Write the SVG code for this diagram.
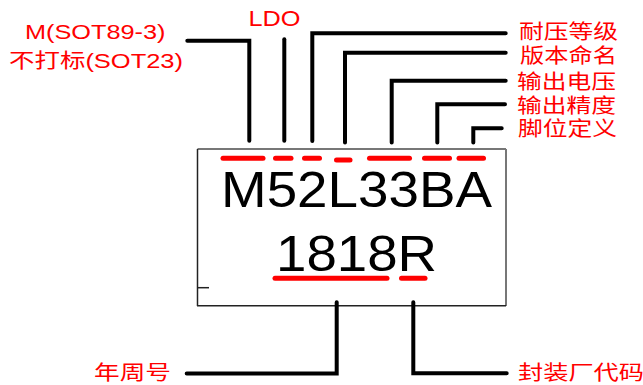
<svg xmlns="http://www.w3.org/2000/svg" width="643" height="385" viewBox="0 0 643 385">
<style>
.lbl{font-family:"Liberation Sans","Noto Sans CJK SC",sans-serif;fill:#ff0000;font-size:20px}
.lat{font-family:"Liberation Sans",Arial,sans-serif;fill:#ff0000}
.big{font-family:"Liberation Sans",Arial,sans-serif;fill:#000;font-size:50px}
.con{fill:none;stroke:#000;stroke-width:4;stroke-linecap:round;stroke-linejoin:miter}
.dash{stroke:#ff0000;stroke-width:5;stroke-linecap:round}
</style>
<rect width="643" height="385" fill="#fff"/>
<g id="chip">
<line x1="197.5" y1="149" x2="506" y2="149" stroke="#777" stroke-width="2"/>
<line x1="506" y1="149" x2="506" y2="306" stroke="#777" stroke-width="2"/>
<line x1="197.5" y1="149" x2="197.5" y2="306" stroke="#222" stroke-width="1.5"/>
<line x1="197" y1="305.7" x2="506" y2="305.7" stroke="#222" stroke-width="1.5"/>
<line x1="197" y1="287.7" x2="209" y2="287.7" stroke="#222" stroke-width="1.5"/>
<text class="big" x="221" y="206.7" textLength="271" lengthAdjust="spacingAndGlyphs">M52L33BA</text>
<text class="big" x="276" y="270.7" textLength="161" lengthAdjust="spacingAndGlyphs">1818R</text>
<g id="marks">
<line class="dash" x1="223" y1="158.3" x2="263" y2="158.3"/>
<line class="dash" x1="275.5" y1="158.3" x2="291" y2="158.3"/>
<line class="dash" x1="304.5" y1="158.3" x2="319.5" y2="158.3"/>
<line class="dash" x1="336.5" y1="160" x2="350" y2="160"/>
<line class="dash" x1="369.5" y1="158.3" x2="409.5" y2="158.3"/>
<line class="dash" x1="424.5" y1="158.3" x2="449.5" y2="158.3"/>
<line class="dash" x1="459" y1="158.3" x2="483.5" y2="158.3"/>
<line class="dash" x1="275" y1="278.3" x2="387" y2="278.3"/>
<line class="dash" x1="401.5" y1="278.3" x2="425" y2="278.3"/>
</g>
</g>
<g id="connectors">
<path class="con" d="M187.3 40.7H249.3V140.7"/>
<path class="con" d="M284.3 39.3V140.7"/>
<path class="con" d="M312.3 141V33.3H505.7"/>
<path class="con" d="M345 142.5V52.7H505.7"/>
<path class="con" d="M391.7 142.5V80.7H505.7"/>
<path class="con" d="M437.3 142.5V104.3H505"/>
<path class="con" d="M473.3 142.5V128.3H501.7"/>
<path class="con" d="M186.7 373.5H336.7V302.3"/>
<path class="con" d="M413.3 302.3V373.3H506.7"/>
</g>
<g id="label-package">
<text class="lat" x="25" y="39.3" font-size="21" textLength="140.5" lengthAdjust="spacingAndGlyphs">M(SOT89-3)</text>
<text class="lbl" x="9" y="68.3" font-size="21" textLength="174" lengthAdjust="spacingAndGlyphs">不打标(SOT23)</text>
</g>
<g id="label-ldo"><text class="lat" x="248.5" y="26" font-size="22" textLength="52" lengthAdjust="spacingAndGlyphs">LDO</text></g>
<g id="label-voltage-class"><text class="lbl" x="519" y="39.3" textLength="99" lengthAdjust="spacingAndGlyphs">耐压等级</text></g>
<g id="label-version"><text class="lbl" x="520" y="62.6" textLength="97" lengthAdjust="spacingAndGlyphs">版本命名</text></g>
<g id="label-output-voltage"><text class="lbl" x="517" y="88.6" textLength="99" lengthAdjust="spacingAndGlyphs">输出电压</text></g>
<g id="label-accuracy"><text class="lbl" x="517" y="112.6" textLength="99" lengthAdjust="spacingAndGlyphs">输出精度</text></g>
<g id="label-pinout"><text class="lbl" x="518" y="135.6" textLength="99" lengthAdjust="spacingAndGlyphs">脚位定义</text></g>
<g id="label-date"><text class="lbl" x="94" y="380.4" font-size="23" textLength="77" lengthAdjust="spacingAndGlyphs">年周号</text></g>
<g id="label-factory"><text class="lbl" x="518" y="380.4" font-size="23" textLength="126" lengthAdjust="spacingAndGlyphs">封装厂代码</text></g>
</svg>
